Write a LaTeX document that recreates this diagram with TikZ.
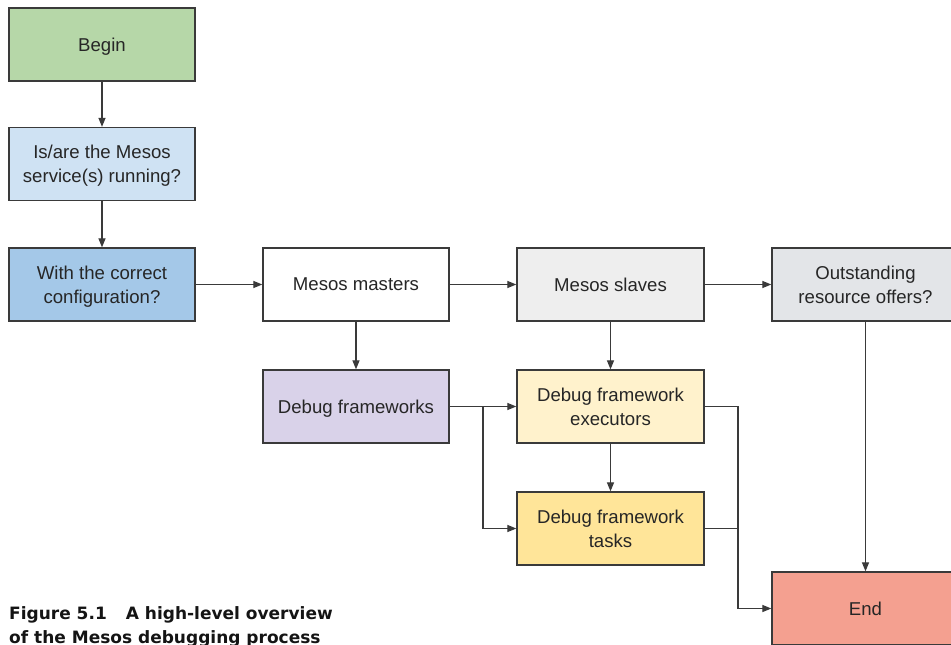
\documentclass[tikz,border=0pt]{standalone}
\usepackage{fontspec}
\setmainfont{Liberation Sans}
\newfontfamily\capfont{DejaVu Sans}
\usetikzlibrary{arrows.meta}
\definecolor{linec}{HTML}{3A3A3A}
\definecolor{cBegin}{HTML}{B6D7A8}
\definecolor{cIs}{HTML}{CFE2F3}
\definecolor{cWith}{HTML}{A4C8E8}
\definecolor{cSlaves}{HTML}{EEEEEE}
\definecolor{cOut}{HTML}{E3E5E8}
\definecolor{cFw}{HTML}{D9D2E9}
\definecolor{cExec}{HTML}{FFF2CC}
\definecolor{cTask}{HTML}{FFE599}
\definecolor{cEnd}{HTML}{F4A090}
\tikzset{
  box/.style={draw=linec, line width=1.3pt, minimum width=186pt, minimum height=73pt,
    inner sep=0pt, align=center, text depth=-2pt, font=\fontsize{18.6}{24}\selectfont, text=black!85},
  conn/.style={draw=linec, line width=1.2pt, -{Triangle[length=9pt,width=7pt]}},
  plain/.style={draw=linec, line width=1.2pt},
}
\begin{document}
\begin{tikzpicture}[x=1pt,y=-1pt]
\clip (0,0) rectangle (951,645);
\fill[white] (0,0) rectangle (951,645);
\node[box, fill=cBegin] (begin) at (102,44.5) {Begin};
\node[box, fill=cIs] (is) at (102,164) {Is/are the Mesos\\service(s) running?};
\node[box, fill=cWith] (with) at (102,284.5) {With the correct\\configuration?};
\node[box, fill=white] (masters) at (356,284.5) {Mesos masters};
\node[box, fill=cSlaves, minimum width=187pt] (slaves) at (610.5,284.5) {Mesos slaves};
\node[box, fill=cOut, minimum width=187pt] (out) at (865.5,284.5) {Outstanding\\resource offers?};
\node[box, fill=cFw] (fw) at (356,406.5) {Debug frameworks};
\node[box, fill=cExec, minimum width=187pt] (exec) at (610.5,406.5) {Debug framework\\executors};
\node[box, fill=cTask, minimum width=187pt] (task) at (610.5,528.5) {Debug framework\\tasks};
\node[box, fill=cEnd, minimum width=187pt] (end) at (865.5,608.5) {End};
\coordinate (split) at (483,406.5);
\coordinate (join) at (738,406.5);
\coordinate (joinb) at (738,528.5);
\draw[conn] (begin) -- (is);
\draw[conn] (is) -- (with);
\draw[conn] (with) -- (masters);
\draw[conn] (masters) -- (slaves);
\draw[conn] (slaves) -- (out);
\draw[conn] (masters) -- (fw);
\draw[conn] (slaves) -- (exec);
\draw[conn] (exec) -- (task);
\draw[conn] (fw) -- (exec);
\draw[conn] (split) |- (task.west);
\draw[conn] (exec.east) -| (join) |- (end.west);
\draw[plain] (task.east) -- (joinb);
\draw[conn] (out) -- (end);
\node[anchor=north west, inner sep=0pt, align=left, font=\capfont\fontsize{17}{24}\selectfont\bfseries, text=black!92] (cap) at (9,606)
  {Figure 5.1\hspace{19pt}A high-level overview\\of the Mesos debugging process};
\end{tikzpicture}
\end{document}
